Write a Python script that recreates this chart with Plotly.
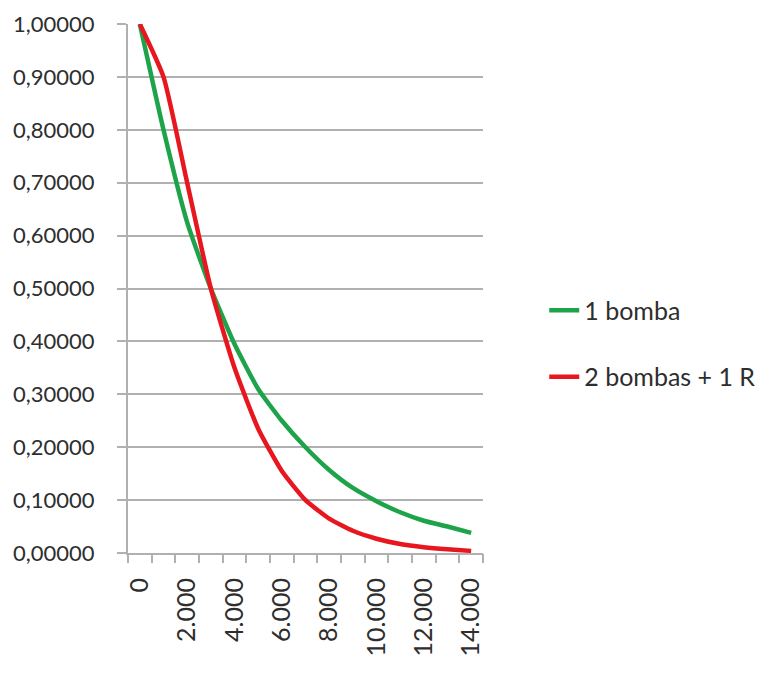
import plotly.graph_objects as go

categories = [0, 1000, 2000, 3000, 4000, 5000, 6000, 7000, 8000, 9000, 10000, 11000, 12000, 13000, 14000]
bomba1 = [1.0, 0.80, 0.625, 0.50, 0.395, 0.31, 0.25, 0.20, 0.157, 0.123, 0.098, 0.077, 0.061, 0.05, 0.038]
bombas2_1r = [1.0, 0.90, 0.70, 0.50, 0.35, 0.235, 0.155, 0.10, 0.065, 0.042, 0.027, 0.017, 0.011, 0.007, 0.004]
x_tick_vals = [0, 2000, 4000, 6000, 8000, 10000, 12000, 14000]
x_tick_text = ["0", "2.000", "4.000", "6.000", "8.000", "10.000", "12.000", "14.000"]
y_tick_vals = [0.0, 0.1, 0.2, 0.3, 0.4, 0.5, 0.6, 0.7, 0.8, 0.9, 1.0]

FONT = "Lato"
TXT = "#2e2e2e"
GRID = "#b0b0b0"

fig = go.Figure()
fig.add_trace(go.Scatter(x=categories, y=bomba1, mode="lines", name="1 bomba",
                         legendgroup="a",
                         line=dict(color="#1ea34a", width=4.5, shape="spline", smoothing=0.5)))
fig.add_trace(go.Scatter(x=categories, y=bombas2_1r, mode="lines", name="2 bombas + 1 R",
                         legendgroup="b",
                         line=dict(color="#e8161e", width=4.5, shape="spline", smoothing=0.5)))
# invisible trace to carry boundary tick marks on the overlay axis
fig.add_trace(go.Scatter(x=[categories[0]], y=[None], xaxis="x2", showlegend=False,
                         hoverinfo="skip"))

xr = [categories[0] - 500, categories[-1] + 500]
boundaries = [c - 500 for c in categories] + [categories[-1] + 500]

fig.update_layout(
    width=764, height=679,
    margin=dict(l=120, r=289, t=16, b=134, autoexpand=False),
    paper_bgcolor="white", plot_bgcolor="white",
    separators=",.",
    font=dict(family=FONT, size=24, color=TXT),
    xaxis=dict(range=xr, tickvals=x_tick_vals, ticktext=x_tick_text, tickangle=-90,
               automargin=False,
               showgrid=False, zeroline=False, showline=True, linecolor=GRID, linewidth=2,
               ticks="", ticklabelstandoff=13, tickfont=dict(family=FONT, size=25, color=TXT)),
    xaxis2=dict(range=xr, overlaying="x", anchor="y", side="bottom", tickvals=boundaries,
                automargin=False,
                showticklabels=False, ticks="outside", ticklen=9, tickwidth=2, tickcolor=GRID,
                showgrid=False, zeroline=False, showline=False),
    yaxis=dict(range=[0, 1], tickvals=y_tick_vals, tickformat=".5f", automargin=False,
               showgrid=True, gridcolor=GRID, gridwidth=2, zeroline=False,
               showline=True, linecolor=GRID, linewidth=2,
               ticks="outside", ticklen=9, tickwidth=2, tickcolor=GRID,
               ticklabelstandoff=18, tickfont=dict(family=FONT, size=22, color=TXT)),
    legend=dict(x=1.1725, xanchor="left", y=0.502, yanchor="top", tracegroupgap=31,
                font=dict(family=FONT, size=25, color=TXT), bgcolor="rgba(0,0,0,0)"),
)

fig.write_html("out.html")
